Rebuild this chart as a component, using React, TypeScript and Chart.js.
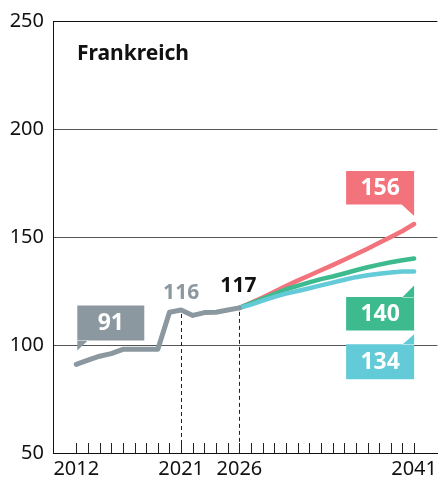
import { useEffect, useRef } from "react";
import { Chart, registerables } from "chart.js";

Chart.register(...registerables);

// ---- data ----
const historyYears = [2012, 2013, 2014, 2015, 2016, 2017, 2018, 2019, 2020, 2021, 2022, 2023, 2024, 2025, 2026];
const historyValues = [91, 93, 94.8, 96, 98, 98, 98, 98, 115.2, 116.2, 113.7, 115, 115.2, 116.2, 117.2];
const projectionYears = [2026, 2027, 2028, 2029, 2030, 2031, 2032, 2033, 2034, 2035, 2036, 2037, 2038, 2039, 2040, 2041];
const highValues = [117.2, 119.5, 122, 124.6, 127.3, 129.8, 132.2, 134.6, 137, 139.5, 142, 144.6, 147.3, 150, 152.8, 156];
const midValues = [117.2, 119.3, 121.4, 123.6, 125.8, 127.4, 129, 130.5, 131.7, 133.1, 134.6, 136, 137.2, 138.3, 139.2, 140];
const lowValues = [117.2, 118.7, 120.5, 122.3, 123.8, 125, 126.3, 127.6, 128.9, 130.2, 131.4, 132.3, 133, 133.6, 134, 134];
const tickYears = Array.from({ length: 30 }, (_, i) => 2012 + i);
const labeledYears = [2012, 2021, 2026, 2041];
const yTickValues = [50, 100, 150, 200, 250];
const markerYears = [2021, 2026];
const titleText = "Frankreich";

const GRAY = "#8c989f";
const RED = "#f2737b";
const GREEN = "#3dbb8f";
const CYAN = "#63cad7";
const FONT = "'Noto Sans', sans-serif";

const pts = (xs: number[], ys: number[]) => xs.map((x, i) => ({ x, y: ys[i] }));

function drawCallout(
  ctx: CanvasRenderingContext2D,
  px: number,
  py: number,
  o: { color: string; text: string; mode: "upLeft" | "upRight" | "downRight"; w: number; h: number; tipDy: number; gapDy: number }
) {
  ctx.save();
  ctx.fillStyle = o.color;
  let left: number, top: number;
  ctx.beginPath();
  if (o.mode === "upLeft") {
    left = px + 1;
    const bottom = py + o.gapDy;
    top = bottom - o.h;
    ctx.rect(left, top, o.w, o.h);
    ctx.moveTo(left, bottom - 0.5);
    ctx.lineTo(left, py + o.tipDy);
    ctx.lineTo(left + 11, bottom - 0.5);
  } else if (o.mode === "upRight") {
    const right = px;
    left = right - o.w;
    const bottom = py + o.gapDy;
    top = bottom - o.h;
    ctx.rect(left, top, o.w, o.h);
    ctx.moveTo(right - 13, bottom - 0.5);
    ctx.lineTo(right, bottom - 0.5);
    ctx.lineTo(right, py + o.tipDy);
  } else {
    const right = px;
    left = right - o.w;
    top = py + o.gapDy;
    ctx.rect(left, top, o.w, o.h);
    ctx.moveTo(right - 12, top + 0.5);
    ctx.lineTo(right, top + 0.5);
    ctx.lineTo(right, py + o.tipDy);
  }
  ctx.closePath();
  ctx.fill();
  ctx.fillStyle = "#ffffff";
  ctx.font = `bold 23px ${FONT}`;
  ctx.textAlign = "center";
  ctx.textBaseline = "middle";
  ctx.fillText(o.text, left + o.w / 2, top + o.h / 2 + 1);
  ctx.restore();
}

const decorPlugin = {
  id: "decor",
  beforeDatasetsDraw(chart: any) {
    const { ctx, scales, chartArea } = chart;
    const x = scales.x;
    const y = scales.y;
    ctx.save();
    ctx.strokeStyle = "#222";
    ctx.lineWidth = 1;
    ctx.setLineDash([4, 3]);
    markerYears.forEach((yr) => {
      const idx = historyYears.indexOf(yr);
      const px = Math.round(x.getPixelForValue(yr)) + 0.5;
      const py = y.getPixelForValue(historyValues[idx]);
      ctx.beginPath();
      ctx.moveTo(px, py + 4);
      ctx.lineTo(px, chartArea.bottom);
      ctx.stroke();
    });
    ctx.setLineDash([]);
    ctx.strokeStyle = "#222";
    tickYears.forEach((yr) => {
      const px = Math.round(x.getPixelForValue(yr)) + 0.5;
      ctx.beginPath();
      ctx.moveTo(px, chartArea.bottom);
      ctx.lineTo(px, chartArea.bottom - 10);
      ctx.stroke();
    });
    ctx.fillStyle = "#111";
    ctx.font = `bold 21px ${FONT}`;
    ctx.textAlign = "left";
    ctx.textBaseline = "alphabetic";
    ctx.fillText(titleText, chartArea.left + 24, chartArea.top + 39);
    ctx.restore();
  },
  afterDatasetsDraw(chart: any) {
    const { ctx, scales } = chart;
    const x = scales.x;
    const y = scales.y;
    const last = projectionYears.length - 1;
    const endX = x.getPixelForValue(projectionYears[last]);
    const i21 = historyYears.indexOf(2021);
    const i26 = historyYears.indexOf(2026);
    ctx.save();
    ctx.textAlign = "center";
    ctx.textBaseline = "middle";
    ctx.font = `bold 21px ${FONT}`;
    ctx.fillStyle = GRAY;
    ctx.fillText(String(Math.round(historyValues[i21])), x.getPixelForValue(2021), y.getPixelForValue(historyValues[i21]) - 17);
    ctx.fillStyle = "#111";
    ctx.fillText(String(Math.round(historyValues[i26])), x.getPixelForValue(2026) - 1, y.getPixelForValue(historyValues[i26]) - 22);
    ctx.restore();

    drawCallout(ctx, x.getPixelForValue(historyYears[0]), y.getPixelForValue(historyValues[0]), {
      color: GRAY, text: String(Math.round(historyValues[0])), mode: "upLeft", w: 67, h: 35, tipDy: -14, gapDy: -24,
    });
    drawCallout(ctx, endX, y.getPixelForValue(highValues[last]), {
      color: RED, text: String(Math.round(highValues[last])), mode: "upRight", w: 68, h: 33.5, tipDy: -8, gapDy: -19.5,
    });
    drawCallout(ctx, endX, y.getPixelForValue(midValues[last]), {
      color: GREEN, text: String(Math.round(midValues[last])), mode: "downRight", w: 68, h: 33.5, tipDy: 27, gapDy: 38.3,
    });
    drawCallout(ctx, endX, y.getPixelForValue(lowValues[last]), {
      color: CYAN, text: String(Math.round(lowValues[last])), mode: "downRight", w: 68, h: 35, tipDy: 62.6, gapDy: 72.6,
    });
  },
};

export default function App() {
  const ref = useRef<HTMLCanvasElement | null>(null);
  useEffect(() => {
    document.body.style.margin = "0";
    if (!ref.current) return;
    const lineDs = (label: string, data: any[], color: string, width: number) => ({
      label,
      data,
      borderColor: color,
      backgroundColor: color,
      borderWidth: width,
      pointRadius: 0,
      tension: 0,
      borderCapStyle: "round" as const,
      borderJoinStyle: "round" as const,
      fill: false,
    });
    const chart = new Chart(ref.current, {
      type: "line",
      data: {
        datasets: [
          lineDs("Historisch", pts(historyYears, historyValues), GRAY, 5),
          lineDs("Niedrig", pts(projectionYears, lowValues), CYAN, 4.5),
          lineDs("Mittel", pts(projectionYears, midValues), GREEN, 4.5),
          lineDs("Hoch", pts(projectionYears, highValues), RED, 4.5),
        ],
      },
      options: {
        animation: false,
        responsive: true,
        maintainAspectRatio: false,
        layout: { padding: { top: 19, left: 0, right: 0, bottom: 0 } },
        plugins: { legend: { display: false }, tooltip: { enabled: false }, title: { display: false } },
        scales: {
          x: {
            type: "linear",
            min: 2010,
            max: 2043,
            afterBuildTicks: (scale: any) => {
              scale.ticks = tickYears.map((v) => ({ value: v }));
            },
            afterFit: (scale: any) => {
              scale.height = 33;
            },
            ticks: {
              autoSkip: false,
              maxRotation: 0,
              padding: 4,
              color: "#111",
              font: { family: FONT, size: 20 },
              callback: (v: any) => (labeledYears.includes(Number(v)) ? String(v) : ""),
            },
            grid: { display: false, drawTicks: false },
            border: { display: true, color: "#111", width: 1 },
          },
          y: {
            type: "linear",
            min: 50,
            max: 250,
            afterBuildTicks: (scale: any) => {
              scale.ticks = yTickValues.map((v) => ({ value: v }));
            },
            afterFit: (scale: any) => {
              scale.width = 53;
            },
            ticks: {
              padding: 9,
              color: "#111",
              font: { family: FONT, size: 20 },
            },
            grid: {
              drawTicks: false,
              color: (c: any) => (c.tick && c.tick.value === 250 ? "#111" : "#555"),
              lineWidth: 1,
            },
            border: { display: true, color: "#111", width: 1 },
          },
        },
      },
      plugins: [decorPlugin],
    });
    return () => chart.destroy();
  }, []);
  return (
    <div style={{ width: 441, height: 486, position: "relative" }}>
      <canvas ref={ref} />
    </div>
  );
}
